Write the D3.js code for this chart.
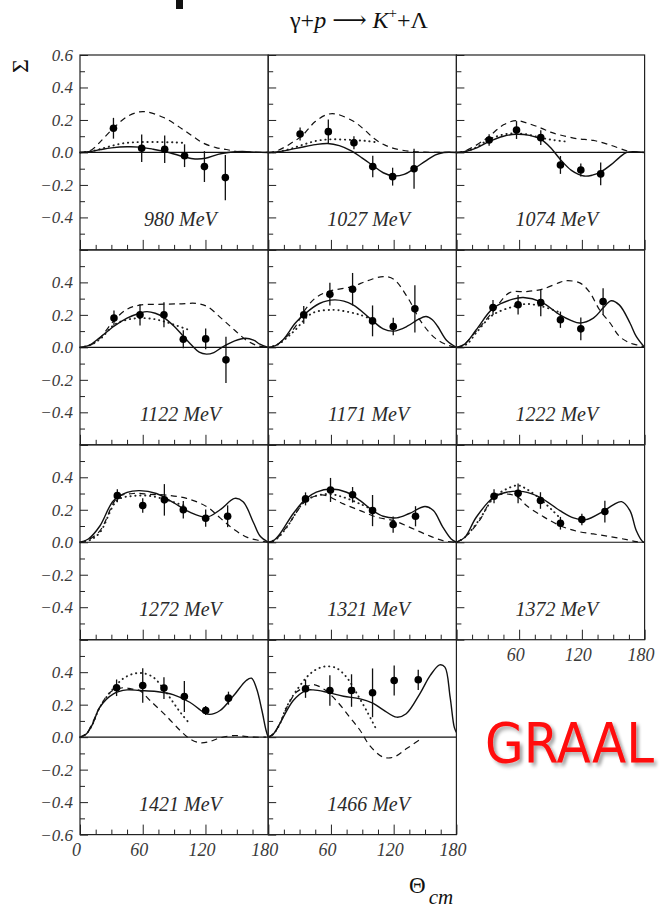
<!DOCTYPE html>
<html>
<head>
<meta charset="utf-8">
<script src="https://cdn.jsdelivr.net/npm/d3@7"></script>
<style>
  body { margin: 0; background: #fff; }
  svg { display: block; }
</style>
</head>
<body>
<svg id="chart" width="664" height="909"></svg>
<script>
// Beam asymmetry Sigma for gamma p -> K+ Lambda, one panel per photon energy
const energies = ["980 MeV", "1027 MeV", "1074 MeV", "1122 MeV", "1171 MeV", "1222 MeV",
                  "1272 MeV", "1321 MeV", "1372 MeV", "1421 MeV", "1466 MeV"];

// measured points: angle (deg), Sigma, error
const pointTheta = [
  [32, 59, 81, 100, 119, 139],
  [30.5, 57.5, 82, 100, 119, 139.5],
  [31.3, 57.5, 80.7, 99.5, 119, 138],
  [32.5, 57.4, 80.3, 98.8, 120.2, 139.6],
  [34, 59, 80.7, 99.8, 119.6, 140.3],
  [35, 59, 80.7, 99.5, 119, 140.3],
  [35.7, 60, 80.7, 98.8, 120.2, 141.2],
  [35.7, 59.6, 80.7, 99.8, 119.5, 140.9],
  [36, 59, 80.4, 99.5, 120, 142],
  [35, 60, 80.3, 99.8, 120.2, 142],
  [35.7, 59, 79.7, 99.8, 120.5, 143.5]
];
const pointSigma = [
  [0.149, 0.026, 0.02, -0.02, -0.087, -0.155],
  [0.114, 0.128, 0.06, -0.087, -0.149, -0.1],
  [0.077, 0.138, 0.091, -0.077, -0.108, -0.132],
  [0.18, 0.2, 0.2, 0.05, 0.052, -0.077],
  [0.2, 0.327, 0.358, 0.163, 0.128, 0.237],
  [0.245, 0.262, 0.276, 0.17, 0.114, 0.282],
  [0.287, 0.226, 0.261, 0.2, 0.148, 0.16],
  [0.267, 0.322, 0.292, 0.195, 0.109, 0.16],
  [0.283, 0.301, 0.257, 0.117, 0.14, 0.189],
  [0.304, 0.318, 0.302, 0.25, 0.164, 0.24],
  [0.298, 0.287, 0.287, 0.273, 0.349, 0.353]
];
const pointError = [
  [0.064, 0.085, 0.085, 0.07, 0.095, 0.14],
  [0.04, 0.075, 0.04, 0.066, 0.055, 0.123],
  [0.035, 0.055, 0.045, 0.055, 0.04, 0.07],
  [0.047, 0.065, 0.077, 0.055, 0.064, 0.143],
  [0.054, 0.07, 0.1, 0.095, 0.054, 0.145],
  [0.046, 0.06, 0.084, 0.05, 0.07, 0.082],
  [0.04, 0.045, 0.097, 0.054, 0.053, 0.067],
  [0.04, 0.074, 0.048, 0.096, 0.05, 0.062],
  [0.043, 0.061, 0.051, 0.039, 0.036, 0.067],
  [0.051, 0.106, 0.067, 0.095, 0.028, 0.04],
  [0.056, 0.094, 0.1, 0.15, 0.092, 0.062]
];

// model curves, [angle, Sigma] pairs
const solidCurves = [
  [[0,0],[10,0.006],[20,0.018],[30,0.028],[45,0.035],[57,0.033],[70,0.02],[85,0],[100,-0.028],[110,-0.04],[120,-0.036],[132,-0.012],[142,0],[155,0.006],[168,0.002],[180,0]],
  [[0,0],[10,0.005],[20,0.016],[32,0.032],[45,0.048],[57,0.055],[68,0.042],[80,0.008],[90,-0.035],[100,-0.08],[110,-0.125],[120,-0.145],[130,-0.135],[140,-0.098],[150,-0.055],[160,-0.015],[168,0],[180,0]],
  [[0,0],[10,0.008],[20,0.03],[31,0.066],[45,0.1],[57,0.112],[70,0.105],[81,0.08],[90,0.03],[99,-0.04],[110,-0.11],[122,-0.145],[130,-0.14],[138,-0.12],[148,-0.075],[156,-0.03],[163,0],[180,0]],
  [[0,0],[8,0.01],[19,0.06],[32.5,0.13],[45,0.18],[57,0.21],[64,0.22],[72,0.21],[80,0.185],[90,0.13],[99,0.067],[108,0.005],[114,-0.03],[121,-0.042],[128,-0.032],[137,0.005],[148,0.04],[158,0.056],[166,0.045],[172,0.02],[180,0]],
  [[0,0],[7,0.01],[14,0.045],[26,0.15],[34,0.2],[49,0.27],[64,0.292],[81,0.262],[97,0.18],[110,0.114],[120,0.1],[133,0.13],[143,0.17],[151,0.19],[157,0.17],[162,0.13],[171,0.04],[180,0]],
  [[0,0],[8,0.02],[19,0.108],[35,0.24],[54,0.297],[64,0.307],[81,0.28],[99,0.2],[110,0.165],[118,0.15],[131,0.18],[140,0.24],[148,0.287],[156,0.26],[166,0.15],[172,0.067],[180,0]],
  [[0,0],[8,0.02],[19,0.1],[32,0.256],[45,0.307],[57,0.318],[73,0.3],[89,0.246],[105,0.185],[121,0.154],[134,0.2],[148,0.27],[156,0.25],[166,0.12],[172,0.04],[180,0]],
  [[0,0],[5,0.01],[11,0.05],[24,0.177],[36,0.267],[46,0.308],[60,0.328],[75,0.308],[88,0.256],[100,0.195],[110,0.16],[123,0.15],[135,0.177],[150,0.22],[158,0.195],[167,0.093],[175,0.02],[180,0]],
  [[0,0],[8,0.03],[19,0.154],[36,0.28],[48,0.308],[64,0.312],[80,0.277],[99,0.195],[112,0.15],[123,0.138],[140,0.189],[150,0.23],[158,0.25],[166,0.195],[172,0.072],[178,0.005],[180,0]],
  [[0,0],[6,0.02],[12,0.08],[19,0.185],[32,0.267],[45,0.291],[57,0.287],[73,0.281],[89,0.262],[105,0.215],[118,0.154],[124,0.14],[134,0.164],[147,0.256],[159,0.349],[164,0.363],[169,0.297],[174,0.164],[178,0.041],[180,0]],
  [[0,0],[5,0.02],[11,0.082],[24,0.226],[36,0.287],[43,0.291],[56,0.277],[72,0.252],[88,0.236],[100,0.21],[110,0.168],[123,0.123],[132,0.144],[145,0.267],[155,0.38],[164,0.445],[169,0.431],[174,0.246],[178,0.06],[180,0.03]]
];
const dashedCurves = [
  [[0,0],[5,0.002],[12,0.02],[20,0.07],[32,0.15],[45,0.22],[57,0.25],[65,0.248],[80,0.215],[92,0.17],[101,0.13],[110,0.09],[118,0.057],[130,0.03],[140,0.018],[150,0.006],[160,0.002],[180,0]],
  [[0,0],[5,0.002],[15,0.03],[25,0.07],[32,0.1],[45,0.19],[57,0.235],[66,0.235],[82,0.19],[92,0.14],[101,0.087],[110,0.05],[120,0.025],[136,0.007],[150,0.002],[180,0]],
  [[0,0],[5,0.002],[15,0.03],[25,0.07],[31,0.097],[45,0.17],[57,0.196],[68,0.18],[81,0.15],[90,0.125],[99,0.108],[115,0.085],[131,0.074],[147,0.046],[163,0.01],[172,0.002],[180,0]],
  [[0,0],[5,0.003],[12,0.02],[19,0.056],[32.5,0.165],[45,0.235],[57,0.26],[75,0.265],[95,0.268],[112,0.27],[122,0.25],[135,0.18],[148,0.105],[160,0.04],[170,0.01],[180,0]],
  [[0,0],[5,0.003],[15,0.05],[26,0.128],[34,0.22],[45,0.303],[57,0.343],[80,0.374],[95,0.41],[110,0.436],[120,0.42],[134,0.3],[146,0.16],[159,0.06],[171,0.015],[180,0]],
  [[0,0],[5,0.005],[19,0.1],[35,0.22],[51,0.337],[67,0.343],[83,0.36],[99,0.4],[105,0.41],[118,0.397],[127,0.343],[137,0.23],[147,0.15],[156,0.067],[166,0.027],[176,0.01],[180,0]],
  [[0,0],[5,0.005],[19,0.07],[36,0.275],[51,0.3],[67,0.295],[83,0.29],[102,0.27],[121,0.22],[134,0.15],[147,0.08],[160,0.03],[172,0.01],[180,0]],
  [[0,0],[5,0.005],[17.5,0.093],[36,0.256],[49,0.29],[56,0.287],[72,0.236],[88,0.195],[104,0.154],[120,0.133],[135,0.093],[151,0.048],[167,0.01],[180,0]],
  [[0,0],[8,0.03],[22,0.133],[36,0.28],[48,0.297],[59,0.277],[67,0.226],[83,0.158],[99,0.103],[115,0.068],[131,0.051],[147,0.035],[163,0.016],[172,0.004],[180,0]],
  [[0,0],[6,0.02],[12,0.09],[19,0.185],[29,0.277],[41,0.304],[49,0.297],[57,0.287],[67,0.226],[83,0.127],[96,0.04],[105,-0.01],[115,-0.035],[124,-0.027],[134,-0.004],[147,0.01],[156,0.006],[166,0],[178,0]],
  [[0,0],[5,0.02],[11,0.08],[17.5,0.18],[27,0.277],[36,0.308],[43,0.324],[53,0.297],[65,0.226],[78,0.123],[88,0.041],[97,-0.051],[110,-0.123],[120,-0.123],[132,-0.072],[145,-0.016]]
];
const dottedCurves = [
  [[0,0],[10,0.006],[20,0.022],[30,0.04],[40,0.055],[50,0.062],[60,0.064],[75,0.064],[90,0.062],[102,0.058]],
  [[0,0],[10,0.005],[20,0.02],[32,0.045],[45,0.07],[57,0.08],[70,0.08],[85,0.075],[95,0.07],[106,0.06]],
  [[0,0],[10,0.008],[20,0.035],[31,0.08],[45,0.11],[57,0.118],[70,0.108],[81,0.09],[92,0.077],[105,0.067]],
  [[0,0],[10,0.015],[20,0.055],[32.5,0.138],[45,0.17],[57,0.18],[70,0.175],[80,0.16],[92,0.135],[104,0.108]],
  [[0,0],[10,0.02],[18,0.06],[26,0.108],[42,0.21],[62,0.231],[75,0.22],[88,0.2],[100,0.17]],
  [[0,0],[10,0.02],[19,0.09],[35,0.2],[54,0.25],[67,0.267],[83,0.25],[99,0.215]],
  [[0,0],[10,0.015],[19,0.06],[36,0.26],[51,0.285],[67,0.285],[83,0.26],[102,0.22]],
  [[0,0],[8,0.02],[17.5,0.09],[36,0.256],[56,0.297],[72,0.277],[88,0.236],[100,0.2]],
  [[0,0],[8,0.03],[22,0.14],[36,0.277],[48,0.328],[59,0.35],[67,0.328],[80,0.267],[92,0.195],[99,0.15]],
  [[0,0],[6,0.02],[12,0.08],[19,0.185],[29,0.277],[41,0.359],[51,0.39],[60,0.394],[70,0.369],[80,0.297],[89,0.215],[97,0.144],[105,0.082]],
  [[0,0],[5,0.02],[11,0.08],[17.5,0.185],[27,0.287],[40,0.39],[49,0.426],[56,0.436],[65,0.426],[75,0.369],[84,0.277],[94,0.164],[104,0.041]]
];

const xMajorTicks = [0, 60, 120, 180];
const xMinorTicks = [15, 30, 45, 75, 90, 105, 135, 150, 165];
const yMajorTicks = [-0.6, -0.4, -0.2, 0, 0.2, 0.4, 0.6];
const yMinorTicks = [-0.5, -0.3, -0.1, 0.1, 0.3, 0.5];
const yLabelsByRow = [
  [-0.4, -0.2, 0, 0.2, 0.4, 0.6],
  [-0.4, -0.2, 0, 0.2, 0.4],
  [-0.4, -0.2, 0, 0.2, 0.4],
  [-0.6, -0.4, -0.2, 0, 0.2, 0.4]
];

// ---- layout ----
const gridLeft = 80, gridTop = 55, pw = 188.2, ph = 194.9;
const serif = "'Liberation Serif', 'DejaVu Serif', 'Times New Roman', serif";
const axisColor = "#222";
const labelColor = "#3a3a3a";

const svg = d3.select("#chart");
svg.append("rect").attr("width", 664).attr("height", 909).attr("fill", "#fff");

const x = d3.scaleLinear().domain([0, 180]).range([0, pw]);
const y = d3.scaleLinear().domain([-0.6, 0.6]).range([ph, 0]);
const curve = d3.line()
  .x(d => x(d[0]))
  .y(d => y(d[1]))
  .curve(d3.curveCatmullRom.alpha(0.5));

const fmt = d3.format(".1f");

function styleAxis(sel) {
  sel.select(".domain").remove();
  sel.attr("color", axisColor);
  sel.selectAll(".tick line").attr("stroke-width", 1);
}

energies.forEach((label, i) => {
  const row = Math.floor(i / 3), col = i % 3;
  const g = svg.append("g")
    .attr("transform", `translate(${gridLeft + col * pw},${gridTop + row * ph})`);

  // zero line
  g.append("line")
    .attr("x1", x(0)).attr("x2", x(180))
    .attr("y1", y(0)).attr("y2", y(0))
    .attr("stroke", "#111").attr("stroke-width", 1.2);

  // inward ticks on the left and bottom edges
  g.append("g").call(d3.axisLeft(y).tickValues(yMajorTicks).tickSize(-8).tickFormat("")).call(styleAxis);
  g.append("g").call(d3.axisLeft(y).tickValues(yMinorTicks).tickSize(-5).tickFormat("")).call(styleAxis);
  g.append("g").attr("transform", `translate(0,${ph})`)
    .call(d3.axisBottom(x).tickValues(xMajorTicks).tickSize(-10).tickFormat("")).call(styleAxis);
  g.append("g").attr("transform", `translate(0,${ph})`)
    .call(d3.axisBottom(x).tickValues(xMinorTicks).tickSize(-5).tickFormat("")).call(styleAxis);

  // model curves
  g.append("path").datum(dashedCurves[i]).attr("d", curve)
    .attr("fill", "none").attr("stroke", "#111").attr("stroke-width", 1.2)
    .attr("stroke-dasharray", "6,4.5");
  g.append("path").datum(dottedCurves[i]).attr("d", curve)
    .attr("fill", "none").attr("stroke", "#222").attr("stroke-width", 1.9)
    .attr("stroke-linecap", "round").attr("stroke-dasharray", "0.3,4.6");
  g.append("path").datum(solidCurves[i]).attr("d", curve)
    .attr("fill", "none").attr("stroke", "#111").attr("stroke-width", 1.4);

  // data points with error bars
  const pts = pointTheta[i].map((t, k) => ({ t, v: pointSigma[i][k], e: pointError[i][k] }));
  g.selectAll(".err").data(pts).enter().append("line")
    .attr("x1", d => x(d.t)).attr("x2", d => x(d.t))
    .attr("y1", d => y(d.v - d.e)).attr("y2", d => y(d.v + d.e))
    .attr("stroke", "#111").attr("stroke-width", 1.3);
  g.selectAll(".pt").data(pts).enter().append("circle")
    .attr("cx", d => x(d.t)).attr("cy", d => y(d.v)).attr("r", 3.8)
    .attr("fill", "#000");

  // frame
  g.append("rect").attr("width", pw).attr("height", ph)
    .attr("fill", "none").attr("stroke", axisColor).attr("stroke-width", 1.2);

  // energy label
  g.append("text")
    .attr("x", x(96)).attr("y", 171)
    .attr("text-anchor", "middle")
    .attr("font-family", serif).attr("font-style", "italic").attr("font-size", 20)
    .attr("fill", "#2a2a2a")
    .text(label);

  // y tick labels on the first column
  if (col === 0) {
    const ax = g.append("g")
      .call(d3.axisLeft(y).tickValues(yLabelsByRow[row]).tickSize(0).tickPadding(7).tickFormat(fmt));
    ax.select(".domain").remove();
    ax.selectAll("text")
      .attr("font-family", serif).attr("font-style", "italic").attr("font-size", 17)
      .attr("fill", labelColor);
  }

  // x tick labels under the lowest panel of each column
  const lowest = (row === 3) || (row === 2 && col === 2);
  if (lowest) {
    const vals = col === 0 ? xMajorTicks : xMajorTicks.slice(1);
    const ax = g.append("g").attr("transform", `translate(0,${ph})`)
      .call(d3.axisBottom(x).tickValues(vals).tickSize(0).tickPadding(9).tickFormat(d3.format("d")));
    ax.select(".domain").remove();
    ax.selectAll("text")
      .attr("font-family", serif).attr("font-style", "italic").attr("font-size", 18)
      .attr("fill", labelColor).attr("dx", -4);
  }
});

// title
const title = svg.append("text")
  .attr("x", 359).attr("y", 28)
  .attr("text-anchor", "middle")
  .attr("font-family", serif).attr("font-size", 24).attr("fill", "#111");
title.append("tspan").text("γ+");
title.append("tspan").attr("font-style", "italic").text("p");
title.append("tspan").text(" ⟶ ");
title.append("tspan").attr("font-style", "italic").text("K");
title.append("tspan").attr("font-size", 15).attr("dy", -10).text("+");
title.append("tspan").attr("dy", 10).text("+Λ");

// small mark at the top edge
svg.append("rect").attr("x", 176).attr("y", 0).attr("width", 7).attr("height", 9).attr("fill", "#111");

// y axis title
svg.append("text")
  .attr("transform", "translate(28,66) rotate(-90)")
  .attr("text-anchor", "middle")
  .attr("font-family", serif).attr("font-size", 24).attr("fill", "#111")
  .text("Σ");

// x axis title
const xt = svg.append("text")
  .attr("x", 409).attr("y", 893)
  .attr("font-family", serif).attr("font-size", 23).attr("fill", "#111");
xt.append("tspan").text("Θ");
xt.append("tspan").attr("font-style", "italic").attr("font-size", 21).attr("dx", 3).attr("dy", 11).text("cm");

// experiment name
const defs = svg.append("defs");
const f = defs.append("filter").attr("id", "soft-shadow")
  .attr("x", "-5%").attr("y", "-20%").attr("width", "112%").attr("height", "150%");
f.append("feGaussianBlur").attr("in", "SourceAlpha").attr("stdDeviation", 1.8).attr("result", "b");
f.append("feOffset").attr("in", "b").attr("dx", 3).attr("dy", 3).attr("result", "o");
f.append("feComponentTransfer").attr("in", "o").attr("result", "s")
  .append("feFuncA").attr("type", "linear").attr("slope", 0.35);
const fm = f.append("feMerge");
fm.append("feMergeNode").attr("in", "s");
fm.append("feMergeNode").attr("in", "SourceGraphic");

svg.append("text")
  .attr("transform", "translate(485,762) scale(1,1.12)")
  .attr("font-family", "'Comic Sans MS', 'DejaVu Sans', sans-serif")
  .attr("font-size", 50)
  .attr("fill", "#ff0a0a")
  .attr("filter", "url(#soft-shadow)")
  .text("GRAAL");
</script>
</body>
</html>
